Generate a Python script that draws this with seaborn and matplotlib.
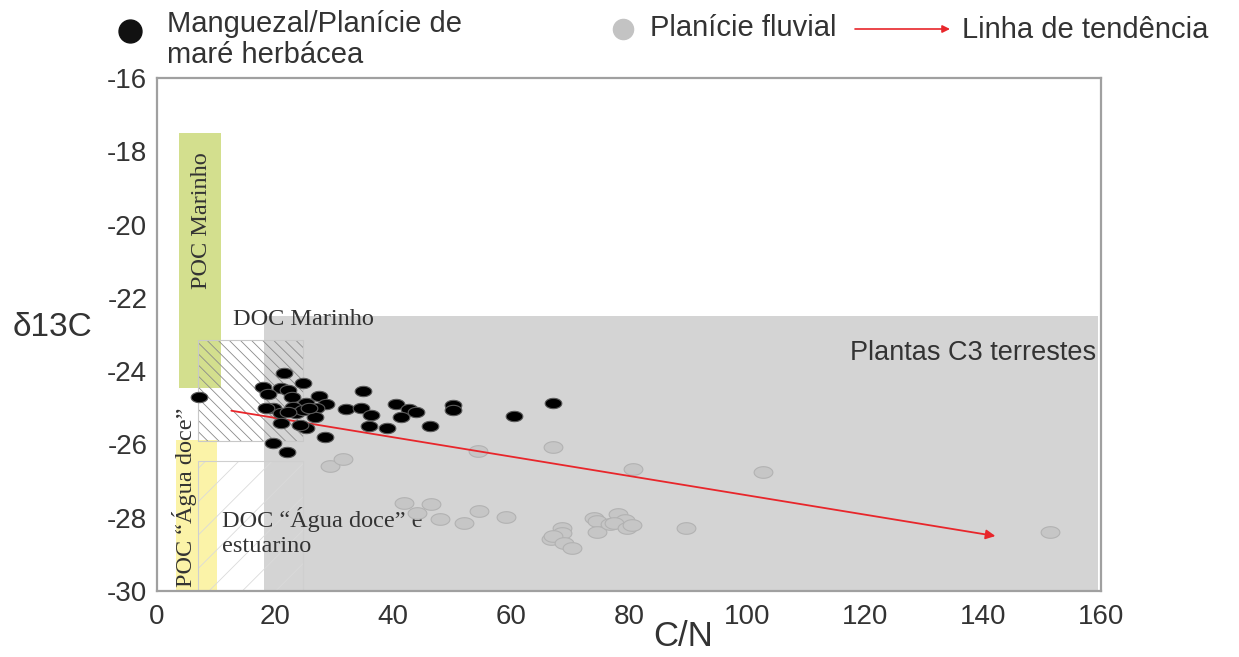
import numpy as np
import matplotlib
matplotlib.use("Agg")
import matplotlib.pyplot as plt
import seaborn as sns
from matplotlib.patches import Rectangle
from matplotlib.path import Path

# ---------------- data ----------------
mangue_cn = [7.15, 21.5, 24.7, 18.0, 21.1, 22.2, 18.8, 22.8, 27.5, 34.9,
             25.3, 28.7, 19.6, 23.0, 27.0, 32.0, 34.6, 40.5, 42.7, 50.2,
             50.2, 67.1, 60.5, 36.3, 41.3, 26.7, 23.6, 21.1, 21.1, 25.3,
             24.2, 35.9, 39.0, 46.3, 28.5, 19.6, 22.1, 43.9, 24.7, 25.8,
             22.2, 18.5]
mangue_d13c = [-24.70, -24.04, -24.33, -24.44, -24.47, -24.52, -24.63, -24.70, -24.68, -24.54,
               -24.88, -24.90, -25.01, -24.97, -25.01, -25.04, -25.01, -24.90, -25.04, -24.93,
               -25.06, -24.88, -25.22, -25.20, -25.26, -25.26, -25.15, -25.15, -25.41, -25.54,
               -25.47, -25.51, -25.56, -25.50, -25.79, -25.95, -26.21, -25.11, -25.06, -25.01,
               -25.11, -25.01]

fluvial_cn = [29.3, 31.6, 54.4, 67.1, 80.6, 102.7, 41.8, 46.5, 44.1, 48.0,
              52.0, 54.6, 59.1, 68.6, 68.6, 66.7, 67.2, 68.9, 70.4, 74.0,
              74.5, 74.5, 76.8, 78.2, 79.3, 77.4, 79.6, 80.5, 89.6, 151.3]
fluvial_d13c = [-26.58, -26.40, -26.17, -26.06, -26.67, -26.74, -27.61, -27.63, -27.88, -28.04,
                -28.15, -27.82, -27.98, -28.27, -28.43, -28.58, -28.50, -28.68, -28.82, -28.00,
                -28.09, -28.38, -28.18, -27.91, -28.06, -28.15, -28.29, -28.20, -28.29, -28.38]

trend_cn = [12.6, 142.1]
trend_d13c = [-25.08, -28.50]

# source regions: (cn_min, cn_max, d13c_min, d13c_max)
c3_region = (18.2, 159.5, -30.0, -22.5)
poc_marinho = (3.7, 10.8, -24.46, -17.51)
poc_doce = (3.2, 10.1, -30.0, -25.88)
doc_marinho = (6.9, 24.8, -25.91, -23.15)
doc_doce = (6.9, 24.8, -30.0, -26.44)

xticks = [0, 20, 40, 60, 80, 100, 120, 140, 160]
yticks = [-16, -18, -20, -22, -24, -26, -28, -30]

# ---------------- style ----------------
sns.set_style("white")
plt.rcParams['font.family'] = ['Liberation Sans', 'DejaVu Sans']
plt.rcParams['axes.unicode_minus'] = False
plt.rcParams['hatch.linewidth'] = 0.6
TXT = "#333333"
SERIF = ['Liberation Serif', 'DejaVu Serif']

W, H = 1239, 657
fig = plt.figure(figsize=(W / 100, H / 100), dpi=100)
L, R, T, B = 157, 1101, 78, 591
ax = fig.add_axes([L / W, 1 - B / H, (R - L) / W, (B - T) / H])


def rect(r, **kw):
    x0, x1, y0, y1 = r
    return Rectangle((x0, y0), x1 - x0, y1 - y0, **kw)


ax.add_patch(rect(c3_region, facecolor="#d4d4d4", edgecolor="none", zorder=1))
ax.add_patch(rect(poc_marinho, facecolor="#d3df8e", edgecolor="none", zorder=1.2))
ax.add_patch(rect(poc_doce, facecolor="#fbf3a8", edgecolor="none", zorder=1.2))
ax.add_patch(rect(doc_marinho, facecolor="none", edgecolor="#8a8a8a", hatch="\\\\\\", linewidth=0, zorder=1.5))
ax.add_patch(rect(doc_marinho, facecolor="none", edgecolor="#c8c8c8", linewidth=0.8, zorder=1.6))
ax.add_patch(rect(doc_doce, facecolor="none", edgecolor="#dadada", hatch="/", linewidth=0, zorder=1.5))
ax.add_patch(rect(doc_doce, facecolor="none", edgecolor="#cfcfcf", linewidth=0.8, zorder=1.6))

# region labels
ax.text(7.5, -19.9, "POC Marinho", rotation=90, ha="center", va="center",
        fontsize=17.5, family=SERIF, color=TXT, zorder=3)
ax.text(4.6, -27.44, "POC \u201c\u00c1gua doce\u201d", rotation=90, ha="center", va="center",
        fontsize=17.5, family=SERIF, color=TXT, zorder=3)
ax.text(12.9, -22.58, "DOC Marinho", ha="left", va="center",
        fontsize=17.5, family=SERIF, color=TXT, zorder=3)
ax.text(11.0, -28.06, "DOC \u201c\u00c1gua doce\u201d e", ha="left", va="center",
        fontsize=17.5, family=SERIF, color=TXT, zorder=3)
ax.text(11.0, -28.79, "estuarino", ha="left", va="center",
        fontsize=17.5, family=SERIF, color=TXT, zorder=3)
ax.text(159.2, -23.5, "Plantas C3 terrestes", ha="right", va="center",
        fontsize=19.5, color=TXT, zorder=3)

# ellipse marker
theta = np.linspace(0, 2 * np.pi, 64)
ell = Path(np.column_stack([np.cos(theta), 0.62 * np.sin(theta)]), closed=True)

sns.scatterplot(x=fluvial_cn, y=fluvial_d13c, ax=ax, marker=ell, s=13.5 ** 2,
                color="#c6c6c6", edgecolor="#b2b2b2", linewidth=0.8, zorder=4)
ax.annotate("", xy=(trend_cn[1], trend_d13c[1]), xytext=(trend_cn[0], trend_d13c[0]),
            arrowprops=dict(arrowstyle="-|>", color="#e8262b", lw=1.3,
                            mutation_scale=14, shrinkA=0, shrinkB=0), zorder=4.5)
sns.scatterplot(x=mangue_cn, y=mangue_d13c, ax=ax, marker=ell, s=12 ** 2,
                color="#000000", edgecolor="#5a5a5a", linewidth=0.8, zorder=5)

ax.set_xlim(0, 159.5)
ax.set_ylim(-30, -16)
ax.set_xticks(xticks)
ax.set_yticks(yticks)
ax.set_xticklabels([str(v) for v in xticks])
ax.set_yticklabels([str(v) for v in yticks])
ax.tick_params(axis="both", length=0, labelsize=20, colors=TXT)
ax.tick_params(axis="x", pad=9)
ax.tick_params(axis="y", pad=7)
for sp in ax.spines.values():
    sp.set_visible(True)
    sp.set_color("#a0a0a0")
    sp.set_linewidth(1.6)
ax.set_facecolor("white")

ax.set_xlabel("C/N", fontsize=25, color=TXT)
ax.xaxis.set_label_coords((683 - L) / (R - L), (B - 637) / (B - T))
ax.xaxis.label.set_va("center")
ax.set_ylabel("\u03b413C", fontsize=24, color=TXT, rotation=0)
ax.yaxis.set_label_coords((52 - L) / (R - L), (B - 327) / (B - T))
ax.yaxis.label.set_va("center")
ax.yaxis.label.set_ha("center")

# ---------------- legend (figure pixel coordinates) ----------------
lax = fig.add_axes([0, 0, 1, 1], zorder=10)
lax.set_xlim(0, W)
lax.set_ylim(H, 0)
lax.axis("off")
lax.patch.set_alpha(0)
lax.plot([130], [31], marker="o", ms=16.5, color="#111111", linestyle="none")
lax.text(167, 24, "Manguezal/Plan\u00edcie de", fontsize=21, color=TXT, ha="left", va="center")
lax.text(167, 55, "mar\u00e9 herb\u00e1cea", fontsize=21, color=TXT, ha="left", va="center")
lax.plot([623], [29], marker="o", ms=14.5, color="#c3c3c3", linestyle="none")
lax.text(650, 28, "Plan\u00edcie fluvial", fontsize=21, color=TXT, ha="left", va="center")
lax.annotate("", xy=(950, 29), xytext=(855, 29),
             arrowprops=dict(arrowstyle="-|>", color="#e8262b", lw=1.2,
                             mutation_scale=11, shrinkA=0, shrinkB=0))
lax.text(962, 30, "Linha de tend\u00eancia", fontsize=21, color=TXT, ha="left", va="center")

fig.savefig("out.png", dpi=100, facecolor="white")
